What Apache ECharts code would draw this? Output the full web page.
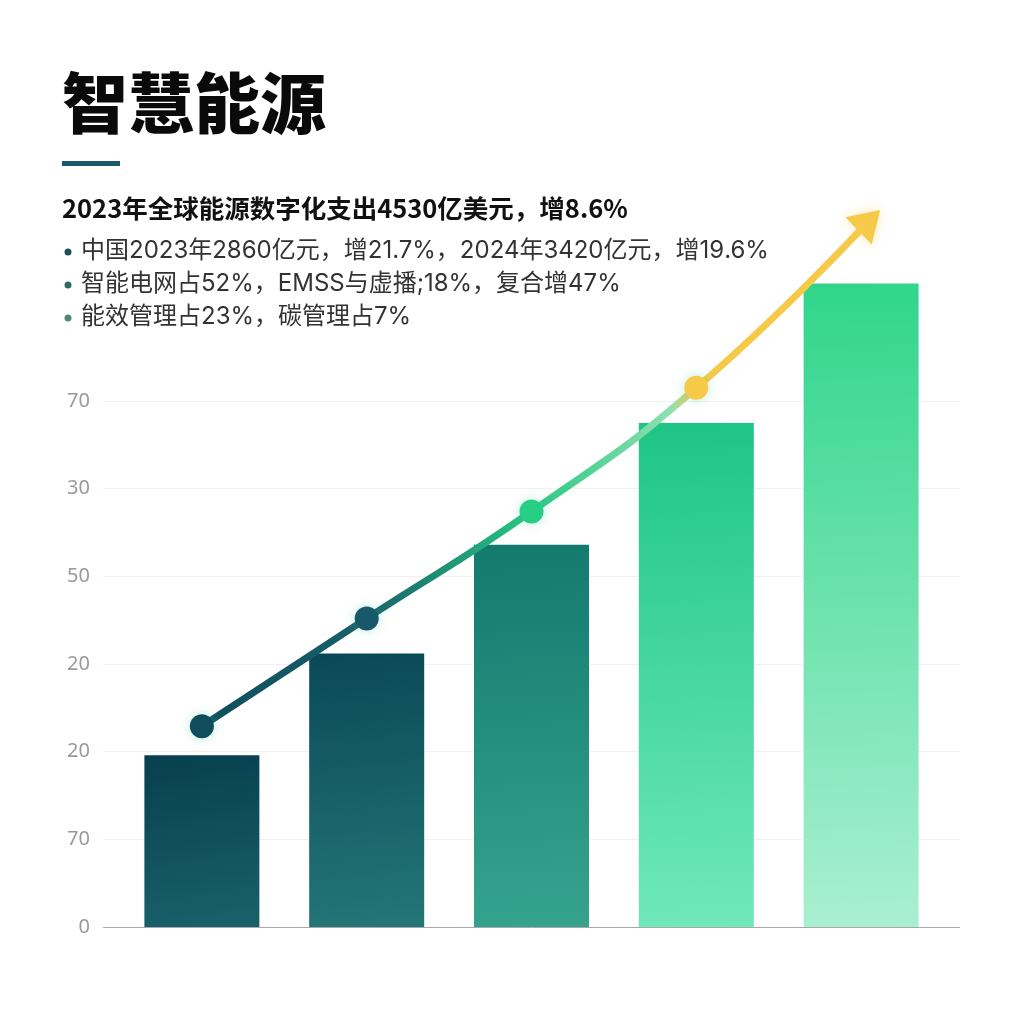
<!DOCTYPE html>
<html>
<head>
<meta charset="utf-8">
<script src="https://cdn.jsdelivr.net/npm/echarts@6/dist/echarts.min.js"></script>
<style>
html,body{margin:0;padding:0;background:#fff;}
#c{width:1024px;height:1024px;}
</style>
</head>
<body>
<div id="c"></div>
<script>
// ---- data ----
const categories = ['1', '2', '3', '4', '5'];
const barValues = [19.6, 31.2, 43.6, 57.5, 73.4];
const lineValues = [22.9, 35.2, 47.4, 61.5, 80.6];
const linePositions = [0, 1, 2, 3, 4.05];
const tickLabels = ['0', '70', '20', '20', '50', '30', '70'];
const titleText = '智慧能源';
const subtitleText = '2023年全球能源数字化支出4530亿美元，增8.6%';
const bullets = [
  '中国2023年2860亿元，增21.7%，2024年3420亿元，增19.6%',
  '智能电网占52%，EMSS与虚播;18%，复合增47%',
  '能效管理占23%，碳管理占7%'
];

// ---- styles ----
const barTop = ['#073f4e', '#0a4858', '#137a6e', '#1ec584', '#30d58b'];
const barBottom = ['#185f69', '#237576', '#35a28e', '#6fe8ba', '#a9efd1'];
const pointColors = ['#0f4d5c', '#17596a', '#27cf84', '#f7c948'];
const bulletDots = ['#1d4f5e', '#2f6a68', '#4f8a78'];

const chart = echarts.init(document.getElementById('c'), null, {renderer: 'canvas'});
const G = echarts.graphic;

const barData = barValues.map((v, i) => ({
  value: [i, v],
  itemStyle: {
    color: new G.LinearGradient(0, 0, 0.25, 1, [
      {offset: 0, color: barTop[i]},
      {offset: 1, color: barBottom[i]}
    ])
  }
}));

const lineData = lineValues.map((v, i) => {
  const last = i === lineValues.length - 1;
  return {
    value: [linePositions[i], v],
    symbol: last ? 'triangle' : 'circle',
    symbolSize: last ? [38, 30] : 24,
    symbolRotate: last ? -46 : 0,
    itemStyle: {
      color: last ? '#f7c948' : pointColors[i],
      shadowBlur: 12,
      shadowColor: last ? 'rgba(247,201,72,0.45)' : 'rgba(60,200,150,0.35)'
    }
  };
});

const graphics = [
  {type: 'text', left: 62, top: 70, style: {text: titleText, fill: '#0a0a0a', font: '900 66px "Noto Sans CJK SC"'}},
  {type: 'rect', left: 62, top: 161, shape: {width: 58, height: 5}, style: {fill: '#1b5a6d'}},
  {type: 'text', left: 62, top: 196, style: {text: subtitleText, fill: '#111', font: 'bold 25.5px "Noto Sans CJK SC"'}}
];
bullets.forEach((b, i) => {
  const cy = 252 + i * 33;
  graphics.push({type: 'circle', shape: {cx: 68, cy: cy, r: 3.5}, style: {fill: bulletDots[i]}});
  graphics.push({type: 'text', left: 81, top: cy - 13, style: {text: b, fill: '#333', font: '24px "Inter", "Noto Sans CJK SC"'}});
});

chart.setOption({
  backgroundColor: '#ffffff',
  animation: false,
  graphic: graphics,
  grid: {left: 103, right: 64, top: 401, bottom: 97},
  xAxis: {
    type: 'value',
    min: -0.6,
    max: 4.6,
    axisLine: {show: false},
    axisTick: {show: false},
    axisLabel: {show: false},
    splitLine: {show: false}
  },
  yAxis: {
    type: 'value',
    min: 0,
    max: 60,
    interval: 10,
    axisLine: {show: false},
    axisTick: {show: false},
    axisLabel: {
      color: '#9a9a9a',
      fontSize: 20,
      margin: 13,
      fontFamily: 'Noto Sans',
      formatter: v => tickLabels[Math.round(v / 10)]
    },
    splitLine: {lineStyle: {color: ['#a8a8a8', '#f0f0f0', '#f0f0f0', '#f0f0f0', '#f0f0f0', '#f0f0f0', '#f0f0f0'], width: 1}}
  },
  series: [
    {
      type: 'bar',
      data: barData,
      barWidth: 115,
      clip: false,
      z: 2
    },
    {
      type: 'line',
      data: lineData,
      smooth: 0.5,
      clip: false,
      z: 3,
      lineStyle: {
        width: 7,
        cap: 'round',
        color: new G.LinearGradient(0, 0, 1, 0, [
          {offset: 0, color: '#0f4d5c'},
          {offset: 0.25, color: '#18606a'},
          {offset: 0.49, color: '#27c882'},
          {offset: 0.7, color: '#8fe0b0'},
          {offset: 0.74, color: '#f7c948'},
          {offset: 1, color: '#f7c948'}
        ])
      }
    }
  ]
});
</script>
</body>
</html>
